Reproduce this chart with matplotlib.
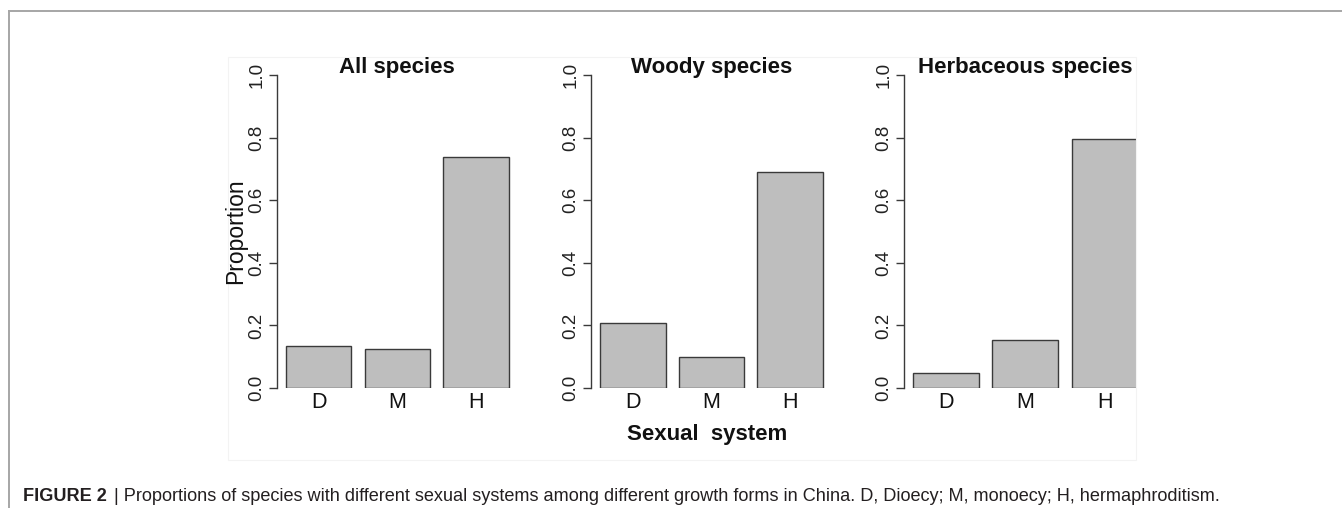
import matplotlib
matplotlib.use("Agg")
import matplotlib.pyplot as plt
from matplotlib.lines import Line2D
from matplotlib.patches import Rectangle

plt.rcParams['font.family'] = ['Liberation Sans', 'DejaVu Sans']

# ---- data ----
categories = ['D', 'M', 'H']
titles = ['All species', 'Woody species', 'Herbaceous species']
all_species = [0.134, 0.125, 0.737]
woody_species = [0.209, 0.098, 0.689]
herbaceous_species = [0.047, 0.154, 0.795]
series = [all_species, woody_species, herbaceous_species]
yticks = [0.0, 0.2, 0.4, 0.6, 0.8, 1.0]
ytick_labels = ['0.0', '0.2', '0.4', '0.6', '0.8', '1.0']
ylabel = 'Proportion'
xlabel = 'Sexual  system'
caption_bold = 'FIGURE 2'
caption_rest = ('| Proportions of species with different sexual systems among different '
                'growth forms in China. D, Dioecy; M, monoecy; H, hermaphroditism.')

W, H = 1342, 508
DPI = 100
fig = plt.figure(figsize=(W / DPI, H / DPI), dpi=DPI)

def fx(px):
    return px / W

def fy(py):
    return (H - py) / H

# frame lines
fig.add_artist(Line2D([fx(9.3), 1.0], [fy(10.7), fy(10.7)], color='#a6a6a6', lw=1.4,
                      transform=fig.transFigure))
fig.add_artist(Line2D([fx(9.3), fx(9.3)], [fy(10.7), 0.0], color='#a6a6a6', lw=1.4,
                      transform=fig.transFigure))
# faint embedded-image boundary
fig.add_artist(Rectangle((fx(228), fy(460)), fx(1136) - fx(228), fy(57) - fy(460),
                         fill=False, edgecolor='#f3f3f3', lw=0.8, transform=fig.transFigure))

# bar geometry (R barplot defaults: width 1, space 0.2)
bar_w = 1.0
space = 0.2
centers = [space + bar_w / 2 + i * (bar_w + space) for i in range(len(categories))]
x_lo = 0.064
x_hi = 3.736

# panel layout in pixels: (axis-left, px per unit, clipped right edge)
panels = [(277.0, 65.5, None), (591.0, 65.6, None), (904.3, 66.0, 1136.0)]
y_zero, y_one = 388.0, 75.0

for i, (left, ppu, clip_right) in enumerate(panels):
    full_right = left + (x_hi - x_lo) * ppu
    right = clip_right if clip_right is not None else full_right
    xmax = x_lo + (right - left) / ppu
    ax = fig.add_axes([fx(left), fy(y_zero), fx(right) - fx(left), fy(y_one) - fy(y_zero)])
    ax.bar(centers, series[i], width=bar_w, color='#bebebe', edgecolor='#3a3a3a',
           linewidth=1.0)
    ax.set_xlim(x_lo, xmax)
    ax.set_ylim(0, 1)
    ax.patch.set_alpha(0)
    for s in ['top', 'right', 'bottom']:
        ax.spines[s].set_visible(False)
    ax.spines['left'].set_color('#3a3a3a')
    ax.spines['left'].set_linewidth(1.0)
    ax.set_yticks(yticks)
    ax.set_yticklabels(ytick_labels, rotation=90, va='center', fontsize=13.5)
    ax.tick_params(axis='y', length=6, width=1.0, color='#3a3a3a', pad=2.5,
                   labelcolor='#222222')
    ax.set_xticks(centers)
    ax.set_xticklabels(categories, fontsize=15.5)
    ax.tick_params(axis='x', length=0, pad=3, labelcolor='#111111')
    cx = (left + full_right) / 2
    fig.text(fx(cx), fy(73.5), titles[i], ha='center', va='baseline', fontsize=16,
             fontweight='bold', color='#111111')

fig.text(fx(236), fy(231.5), ylabel, rotation=90, ha='center', va='center', fontsize=16.5,
         color='#111111')
fig.text(fx(707.5), fy(440), xlabel, ha='center', va='baseline', fontsize=16,
         fontweight='bold', color='#111111')

# caption
t1 = fig.text(fx(23), fy(501), caption_bold, ha='left', va='baseline', fontsize=13.1,
              fontweight='bold', color='#231f20')
fig.canvas.draw()
r = fig.canvas.get_renderer()
bb = t1.get_window_extent(renderer=r)
fig.text((bb.x1 + 7) / W, fy(501), caption_rest, ha='left', va='baseline', fontsize=13.1,
         color='#231f20')

fig.savefig('out.png', dpi=DPI)
